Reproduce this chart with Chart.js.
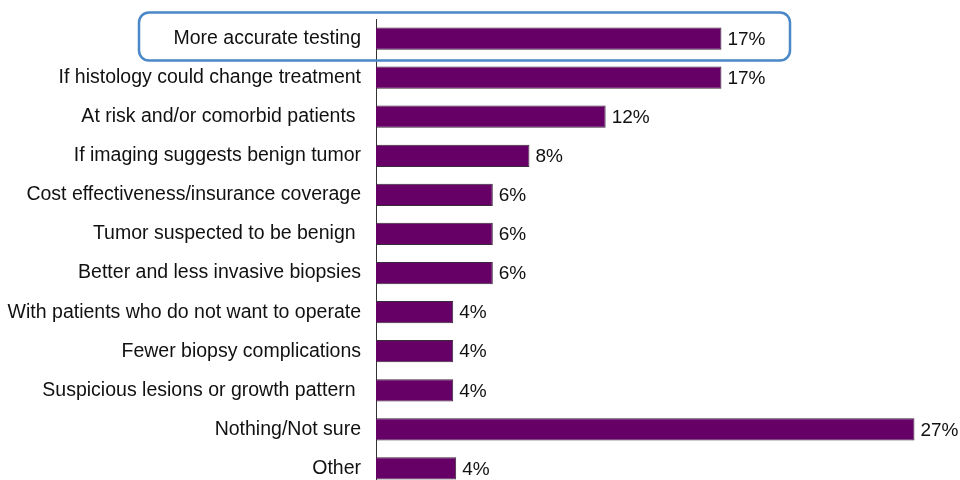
<!DOCTYPE html>
<html>
<head>
<meta charset="utf-8">
<script src="https://cdn.jsdelivr.net/npm/chart.js@4.4.1/dist/chart.umd.min.js"></script>
<style>
  html, body { margin: 0; padding: 0; background: #fff; overflow: hidden; }
</style>
</head>
<body>
<canvas id="chart" width="960" height="488" style="width:960px;height:488px;display:block"></canvas>
<script>
// survey answers (categories) and share of respondents in %
var categories = [
    'More accurate testing',
    'If histology could change treatment',
    'At risk and/or comorbid patients ',
    'If imaging suggests benign tumor',
    'Cost effectiveness/insurance coverage',
    'Tumor suspected to be benign ',
    'Better and less invasive biopsies',
    'With patients who do not want to operate',
    'Fewer biopsy complications',
    'Suspicious lesions or growth pattern ',
    'Nothing/Not sure',
    'Other'
];
var shares = [17.45, 17.45, 11.6, 7.75, 5.9, 5.9, 5.9, 3.9, 3.9, 3.9, 27.2, 4.05];
var highlighted = 0; // index of the boxed category

var FONT = 'Liberation Sans, Arial, sans-serif';

// value labels at the end of each bar
var valueLabels = {
    id: 'valueLabels',
    afterDatasetsDraw: function(chart) {
        var ctx = chart.ctx;
        var meta = chart.getDatasetMeta(0);
        ctx.save();
        ctx.font = '19px ' + FONT;
        ctx.fillStyle = '#111';
        ctx.textAlign = 'left';
        ctx.textBaseline = 'middle';
        meta.data.forEach(function(bar, i) {
            ctx.fillText(Math.round(shares[i]) + '%', bar.x + 6, bar.y + 1);
        });
        ctx.restore();
    }
};

// rounded blue box around the highlighted row
var highlightBox = {
    id: 'highlightBox',
    afterDraw: function(chart) {
        var ctx = chart.ctx;
        var y = chart.scales.y.getPixelForValue(highlighted);
        var left = 139, right = 790, top = y - 26, bottom = y + 22, r = 10;
        ctx.save();
        ctx.strokeStyle = '#4a88c7';
        ctx.lineWidth = 2.5;
        ctx.beginPath();
        ctx.roundRect(left, top, right - left, bottom - top, r);
        ctx.stroke();
        ctx.restore();
    }
};

new Chart(document.getElementById('chart'), {
    type: 'bar',
    data: {
        labels: categories,
        datasets: [{
            data: shares,
            backgroundColor: '#660066',
            borderColor: '#3a2a3a',
            borderWidth: 1,
            categoryPercentage: 1,
            barPercentage: 0.57
        }]
    },
    options: {
        indexAxis: 'y',
        responsive: false,
        animation: false,
        layout: { padding: { top: 19, right: 0, bottom: 0, left: 0 } },
        plugins: {
            legend: { display: false },
            tooltip: { enabled: false }
        },
        scales: {
            x: { display: false, min: 0, max: 29.5 },
            y: {
                afterFit: function(scale) {
                    scale.width = 376;
                    scale.paddingTop = 0;
                    scale.paddingBottom = 0;
                },
                grid: { display: false, drawTicks: false },
                border: { display: true, color: '#333', width: 1 },
                ticks: {
                    color: '#111',
                    padding: 15,
                    font: { family: FONT, size: 19.5 }
                }
            }
        }
    },
    plugins: [valueLabels, highlightBox]
});
</script>
</body>
</html>
